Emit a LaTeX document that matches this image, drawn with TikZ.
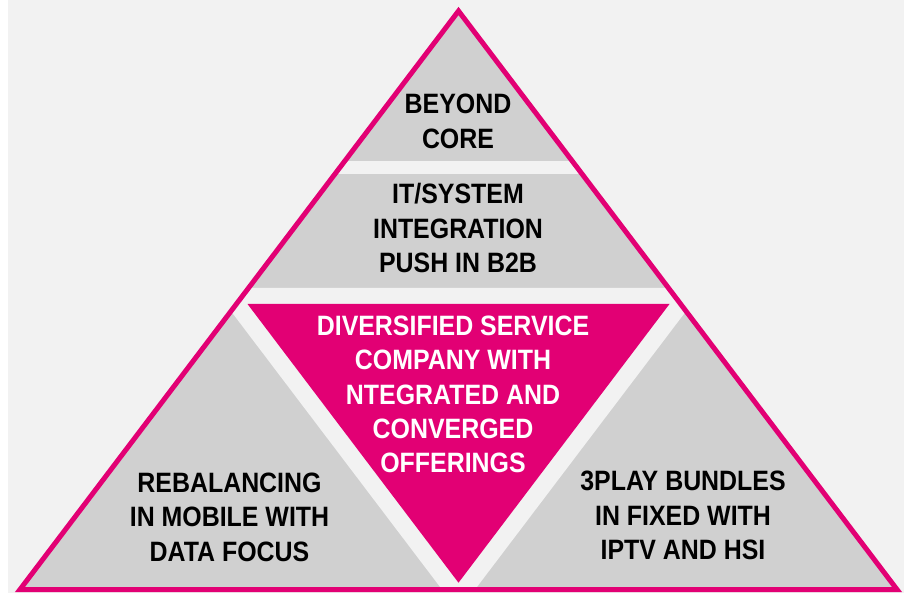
\documentclass[tikz,border=0pt]{standalone}
\usepackage{fontspec}
\setmainfont{Liberation Sans}[FakeStretch=0.89]
\definecolor{tmag}{HTML}{E20074}
\definecolor{tgray}{HTML}{D0D0D0}
\definecolor{tlight}{HTML}{F2F2F2}
\begin{document}
\begin{tikzpicture}[x=1pt,y=-1pt,
  lbl/.style={font=\bfseries\fontsize{28}{34.4}\selectfont, align=center, inner sep=0pt, text=black},
  lblw/.style={lbl, text=white}]
\useasboundingbox (0,0) rectangle (904,593);
% page and panel background
\fill[white] (0,0) rectangle (904,593);
\fill[tlight] (8,0) rectangle (904,593);
% outer pyramid corners
\coordinate (A) at (458.5,11);
\coordinate (L) at (20,589.5);
\coordinate (R) at (897,589.5);
\fill[tgray] (A) -- (L) -- (R) -- cycle;
% separating gaps between the segments
\begin{scope}
  \clip (A) -- (L) -- (R) -- cycle;
  \fill[tlight] (0,161) rectangle (904,174);
  \fill[tlight] (0,288) rectangle (904,304);
  \fill[tlight] (213.4,288) -- (703.6,288) -- (458.5,611.3) -- cycle;
\end{scope}
% central inverted triangle
\coordinate (M1) at (247.5,304);
\coordinate (M2) at (669.5,304);
\coordinate (M3) at (458.5,582.7);
\fill[tmag] (M1) -- (M2) -- (M3) -- cycle;
% outline of the pyramid
\draw[tmag, line width=5pt, line join=miter] (A) -- (L) -- (R) -- cycle;
% labels
\node[lbl] (core) at (458,121.5) {BEYOND\\CORE};
\node[lbl] (itsys) at (458,228) {IT/SYSTEM\\INTEGRATION\\PUSH IN B2B};
\node[lblw] (center) at (453,394.5) {DIVERSIFIED SERVICE\\COMPANY WITH\\NTEGRATED AND\\CONVERGED\\OFFERINGS};
\node[lbl] (mobile) at (229.5,517) {REBALANCING\\IN MOBILE WITH\\DATA FOCUS};
\node[lbl] (fixed) at (683,515.5) {3PLAY BUNDLES\\IN FIXED WITH\\IPTV AND HSI};
\end{tikzpicture}
\end{document}
